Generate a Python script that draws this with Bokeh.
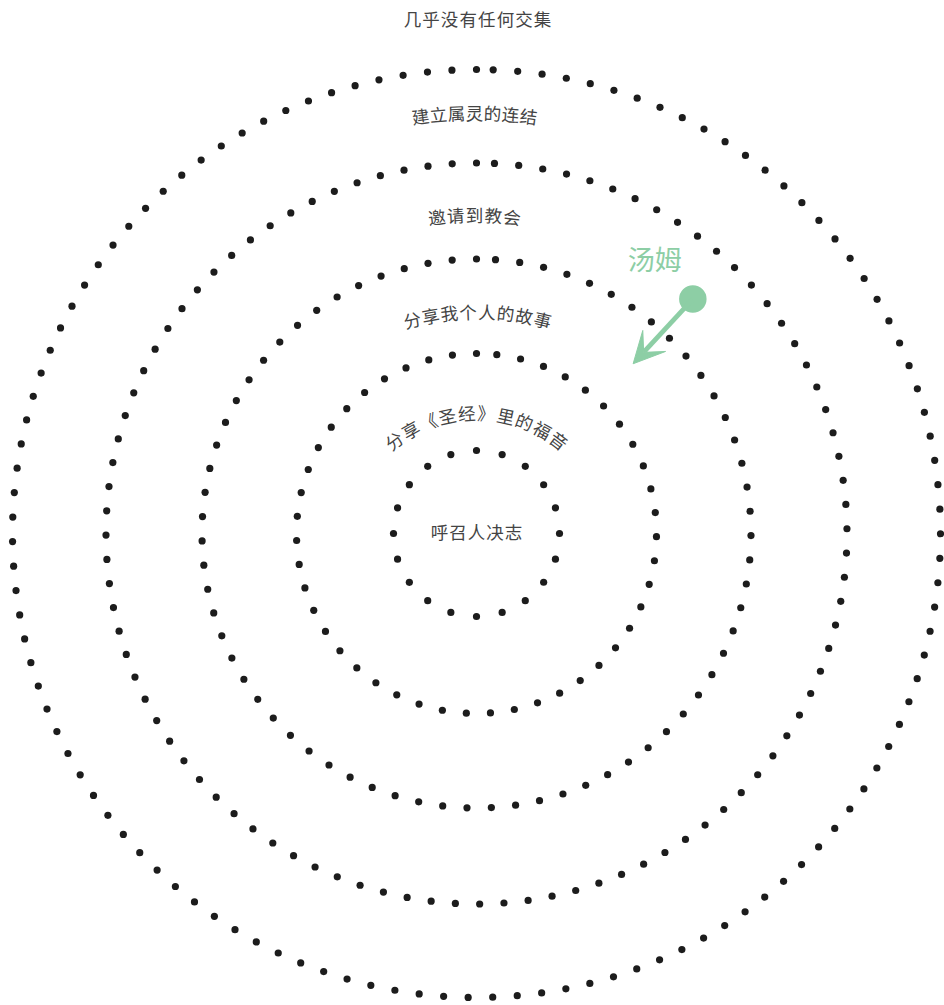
import math
from bokeh.plotting import figure
from bokeh.models import Range1d, Arrow, VeeHead, ColumnDataSource
from bokeh.core.properties import value
from bokeh.embed import file_html
from bokeh.resources import INLINE

# ---------------- data ----------------
center_x, center_y = 476, 533
ring_radii = [83, 180, 274.5, 370.5, 464]
ring_dot_counts = [20, 47, 71, 96, 119]
ring_seam_deg = [18, 6.48, 3.97, 2.78, 2.06]

stage_labels = ["呼召人决志", "分享《圣经》里的福音", "分享我个人的故事",
                "邀请到教会", "建立属灵的连结", "几乎没有任何交集"]
# arc (centre y, radius) on which each label's characters sit; None = straight
label_arc_cy = [None, 548, 581, 533, 533, None]
label_arc_r = [None, 134, 268, 317, 419, None]
label_flat_y = [533, None, None, None, None, 20]
label_cx = [476, 476, 477, 474, 474, 477]
label_spacing = [18.5, 19.4, 18.7, 18.75, 18.0, 18.6]

person_name = "汤姆"
person_angle_deg = 42.7          # clockwise from top
person_r_from = 319
person_r_to = 231

# ---------------- figure ----------------
W, H = 944, 1005
text_dy = -2  # optical baseline correction for CJK glyphs
p = figure(width=W, height=H, x_range=Range1d(0, 944), y_range=Range1d(1005, 0),
           output_backend="svg", toolbar_location=None, min_border=0,
           x_axis_type=None, y_axis_type=None)
p.grid.visible = False
p.outline_line_color = None
p.background_fill_color = "white"
p.border_fill_color = "white"

# dotted rings
xs, ys = [], []
for r, n, seam in zip(ring_radii, ring_dot_counts, ring_seam_deg):
    step = (360.0 - seam) / (n - 1)
    for i in range(n):
        th = math.radians(-i * step)
        xs.append(center_x + r * math.sin(th))
        ys.append(center_y - r * math.cos(th))
p.scatter(xs, ys, size=7.2, color="#1c1c1c", line_color=None)

# labels (character by character)
cx_l, cy_l, ang_l = [], [], []
for lab, acy, ar, fy, lcx, sp in zip(stage_labels, label_arc_cy, label_arc_r,
                                     label_flat_y, label_cx, label_spacing):
    n = len(lab)
    for i, ch in enumerate(lab):
        off = (i - (n - 1) / 2.0) * sp
        if ar is None:
            cx_l.append(lcx + off)
            cy_l.append(fy + text_dy)
            ang_l.append(0.0)
        else:
            th = off / ar
            cx_l.append(lcx + (ar - text_dy) * math.sin(th))
            cy_l.append(acy - (ar - text_dy) * math.cos(th))
            ang_l.append(-th)
chars = [c for lab in stage_labels for c in lab]
src = ColumnDataSource(dict(x=cx_l, y=cy_l, t=chars, a=ang_l))
p.text(x="x", y="y", text="t", angle="a", source=src,
       text_font=value("Noto Sans CJK SC"), text_font_size="17.5px",
       text_color="#444444", text_align="center", text_baseline="middle")

# person marker + arrow
green = "#8dcea5"
pa = math.radians(person_angle_deg)
px0 = center_x + person_r_from * math.sin(pa)
py0 = center_y - person_r_from * math.cos(pa)
px1 = center_x + person_r_to * math.sin(pa)
py1 = center_y - person_r_to * math.cos(pa)
p.add_layout(Arrow(end=VeeHead(size=31, fill_color=green, line_color=green, line_width=1),
                   x_start=px0, y_start=py0, x_end=px1, y_end=py1,
                   line_color=green, line_width=4.8))
p.scatter([px0], [py0], size=27.5, color=green, line_color=None)
p.text([px0 - 38], [py0 - 41], text=[person_name],
       text_font=value("Noto Sans CJK SC"), text_font_size="27px",
       text_color=green, text_align="center", text_baseline="middle")

open("out.html", "w").write(file_html(p, INLINE))
